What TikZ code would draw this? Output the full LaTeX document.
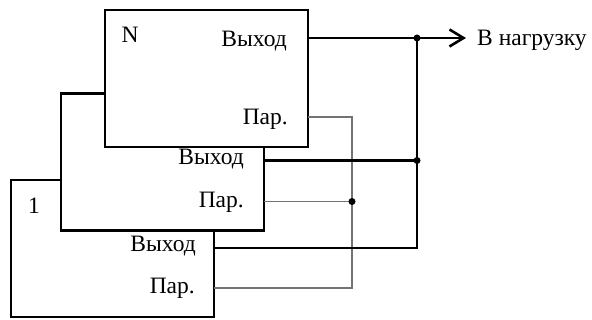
\documentclass[tikz,border=0pt]{standalone}
\usepackage{fontspec}
\setmainfont{Liberation Serif}
\usetikzlibrary{arrows.meta}
\usetikzlibrary{calc}

\begin{document}
\begin{tikzpicture}[x=1pt, y=-1pt,
            unit/.style = {draw, line width=2.4pt, fill=white, inner sep=0pt, outer sep=0pt,
                minimum width=203pt, minimum height=137pt},
            lbl/.style = {inner sep=0pt, font=\fontsize{23.5}{26}\selectfont},
            bus/.style = {line width=2.6pt},
            parline/.style = {line width=1.8pt, black!55},
            dot/.style = {circle, fill, inner sep=0pt, minimum size=7pt}]
            \useasboundingbox (0,0) rectangle (592,320);
            \node[unit] (one) at (112.5,248.5) {};
            \node[unit] (two) at (162.5,162) {};
            \node[unit] (last) at (206.5,78.5) {};

            \node[lbl] (numone) at (34,206) {1};
            \node[lbl] (numlast) at (130,35) {N};
            \node[lbl, anchor=east] (outone) at (196,246) {Выход};
            \node[lbl, anchor=east] (parone) at (195,288) {Пар.};
            \node[lbl, anchor=east] (outtwo) at (244,159) {Выход};
            \node[lbl, anchor=east] (partwo) at (244,202) {Пар.};
            \node[lbl, anchor=east] (outlast) at (287,41) {Выход};
            \node[lbl, anchor=east] (parlast) at (288,119) {Пар.};

            \coordinate (o1) at ($(one.north east)+(0,68)$);
            \coordinate (p1) at ($(one.north east)+(0,108)$);
            \coordinate (o2) at ($(two.north east)+(0,67)$);
            \coordinate (p2) at ($(two.north east)+(0,108)$);
            \coordinate (oN) at ($(last.north east)+(0,28)$);
            \coordinate (pN) at ($(last.north east)+(0,107)$);
            \coordinate (jO) at ($(o2)+(153,0)$);
            \coordinate (jP) at ($(p2)+(88,0)$);
            \coordinate (load) at ($(oN)+(158,0)$);

            % parallel wires
            \draw[parline] (pN) -| (jP);
            \draw[parline] (p1) -| (jP);
            \draw[parline] (p2) -- (jP);
            % outputs
            \draw[bus] (o1) -| (jO);
            \draw[bus] (o2) -- (jO);
            \draw[bus] (jO) -- (jO |- oN);
            \draw[bus, -{Straight Barb[length=14pt, width=17pt]}] (oN) -- (load);
            \node[lbl, anchor=west] (dest) at (477,40) {В нагрузку};

            \node[dot] (d1) at (jO) {};
            \node[dot] (d2) at (jO |- oN) {};
            \node[dot] (d3) at (jP) {};
        \end{tikzpicture}
\end{document}
